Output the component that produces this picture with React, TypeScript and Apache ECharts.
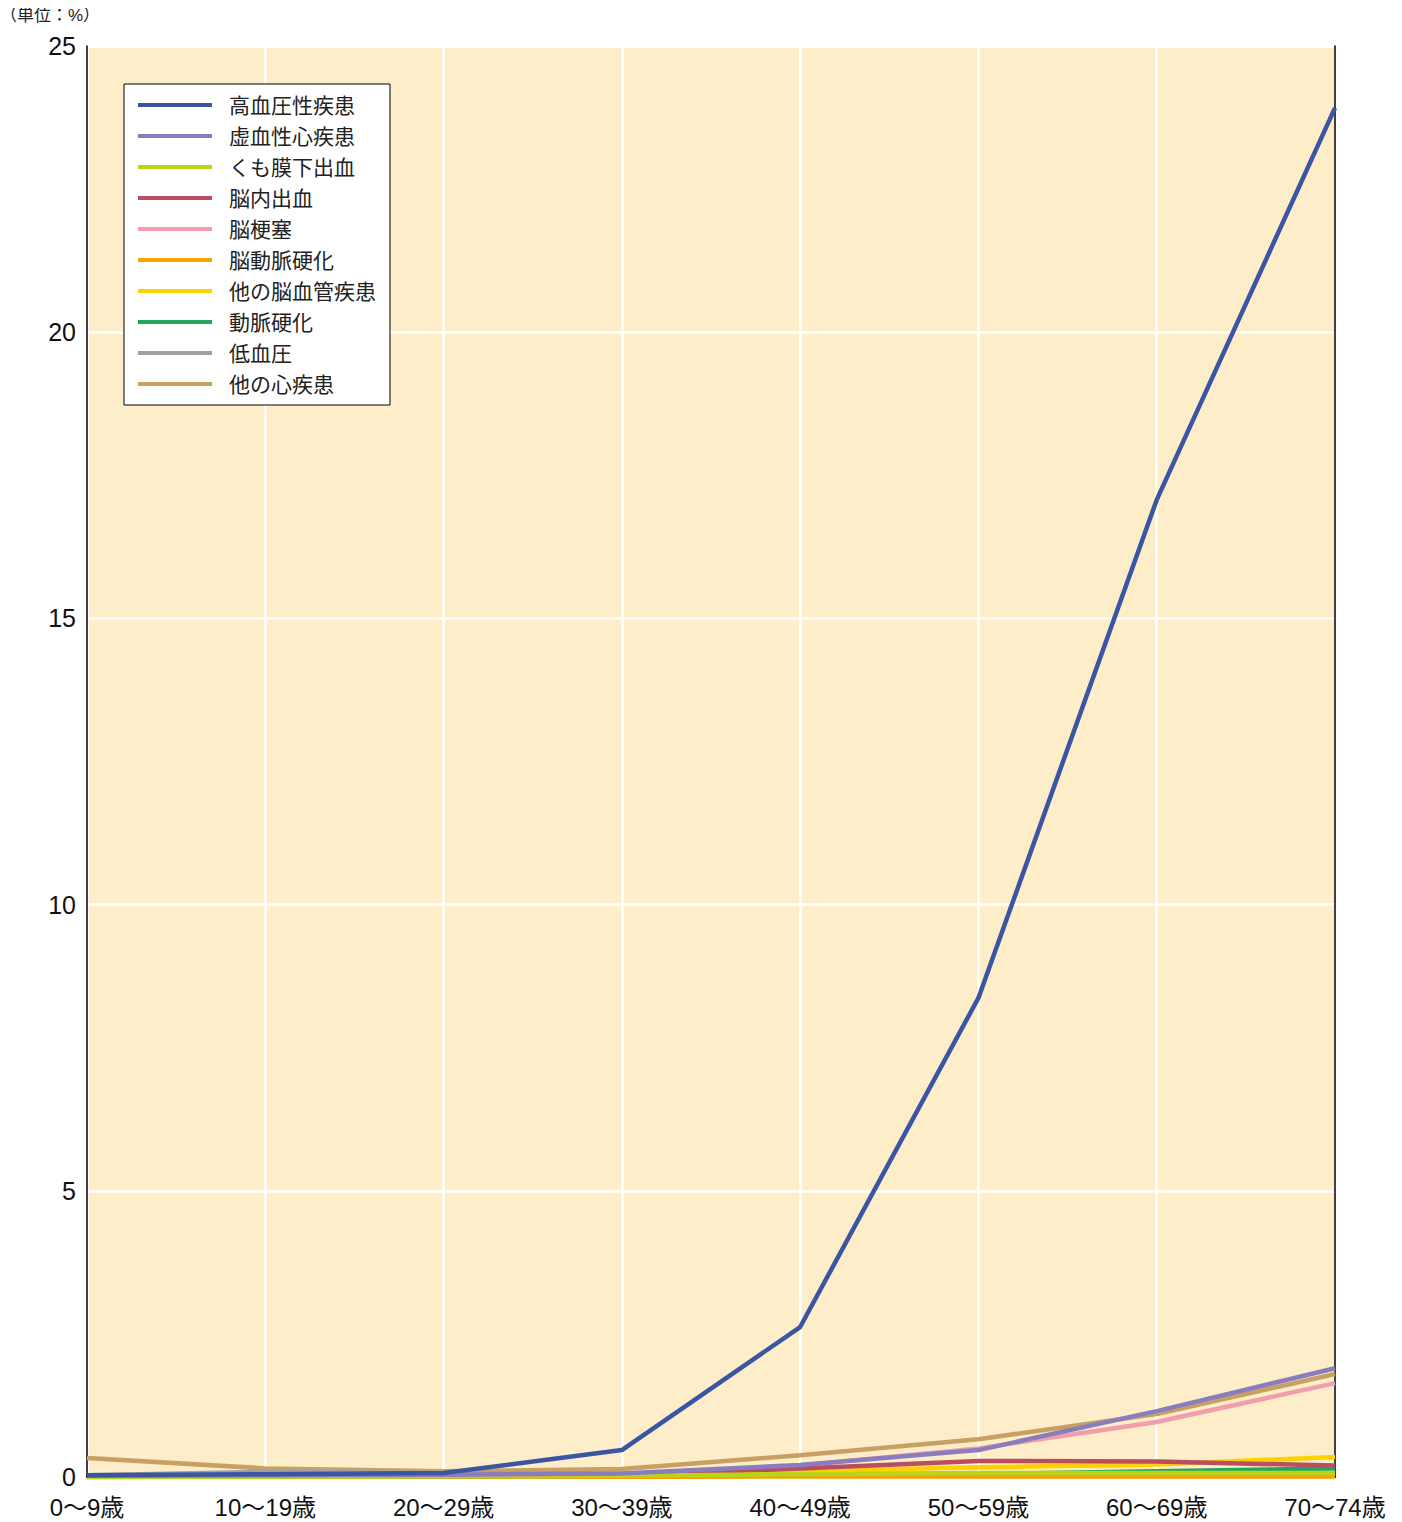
import React, { useEffect, useRef } from "react";
import * as echarts from "echarts";

const categories = ["0～9歳", "10～19歳", "20～29歳", "30～39歳", "40～49歳", "50～59歳", "60～69歳", "70～74歳"];
const seriesNames = ["高血圧性疾患", "虚血性心疾患", "くも膜下出血", "脳内出血", "脳梗塞", "脳動脈硬化", "他の脳血管疾患", "動脈硬化", "低血圧", "他の心疾患"];
const seriesColors = ["#3A55A4", "#8A7DBE", "#BCD318", "#B94E63", "#F29DAB", "#F5A300", "#FFD100", "#1FA75E", "#A0A0A0", "#C9A064"];

const hypertension = [0.03, 0.05, 0.07, 0.47, 2.62, 8.37, 17.07, 23.92];
const ischemicHeart = [0.02, 0.03, 0.04, 0.06, 0.21, 0.47, 1.15, 1.9];
const subarachnoid = [0.0, 0.0, 0.01, 0.02, 0.05, 0.07, 0.07, 0.07];
const intracerebral = [0.0, 0.01, 0.01, 0.03, 0.15, 0.28, 0.27, 0.2];
const cerebralInfarction = [0.0, 0.01, 0.02, 0.05, 0.2, 0.5, 0.96, 1.64];
const cerebralArterio = [0.0, 0.0, 0.0, 0.0, 0.01, 0.01, 0.01, 0.01];
const otherCerebro = [0.01, 0.01, 0.02, 0.04, 0.1, 0.17, 0.22, 0.35];
const arteriosclerosis = [0.0, 0.0, 0.0, 0.01, 0.03, 0.05, 0.1, 0.15];
const hypotension = [0.03, 0.09, 0.07, 0.06, 0.06, 0.05, 0.05, 0.05];
const otherHeart = [0.33, 0.15, 0.1, 0.14, 0.38, 0.66, 1.1, 1.8];

const seriesValues = [hypertension, ischemicHeart, subarachnoid, intracerebral, cerebralInfarction, cerebralArterio, otherCerebro, arteriosclerosis, hypotension, otherHeart];
const yTicks = { min: 0, max: 25, interval: 5 };
const unitLabel = "（単位：%）";

const FONT = "'Liberation Sans', 'Noto Sans CJK JP', sans-serif";

export default function App() {
  const ref = useRef<HTMLDivElement>(null);
  useEffect(() => {
    if (!ref.current) return;
    const chart = echarts.init(ref.current, null, { renderer: "svg" });
    const series = seriesNames.map((name, i) => ({
      name,
      type: "line",
      data: seriesValues[i],
      symbol: "none",
      z: 20 - i,
      lineStyle: { color: seriesColors[i], width: 4.5 },
      itemStyle: { color: seriesColors[i] },
    }));
    const frameAxisLine = { show: true, lineStyle: { color: "#000", width: 1.5 } };
    chart.setOption({
      animation: false,
      textStyle: { fontFamily: FONT },
      graphic: [
        {
          type: "text",
          left: 0,
          top: 7,
          style: { text: unitLabel, fontSize: 17, fill: "#222", fontFamily: FONT },
        },
      ],
      grid: {
        left: 87,
        right: 67,
        top: 46,
        bottom: 45,
        show: true,
        backgroundColor: "#FDEDC9",
        borderWidth: 0,
      },
      legend: {
        data: seriesNames,
        orient: "vertical",
        left: 124,
        top: 84,
        z: 50,
        padding: [10, 14, 10, 14],
        backgroundColor: "#fff",
        borderColor: "#000",
        borderWidth: 1,
        itemWidth: 74,
        itemHeight: 4,
        itemGap: 9,
        icon: "rect",
        textStyle: { fontSize: 21, color: "#222", padding: [0, 0, 0, 12], lineHeight: 22, fontFamily: FONT },
      },
      xAxis: [
        {
          type: "category",
          data: categories,
          boundaryGap: false,
          axisLine: frameAxisLine,
          axisTick: { show: false },
          axisLabel: { fontSize: 24, color: "#111", margin: 18, fontFamily: FONT },
          splitLine: { show: true, lineStyle: { color: "#fff", width: 2.5 } },
          z: 5,
        },
        {
          type: "category",
          data: categories,
          boundaryGap: false,
          position: "top",
          axisLine: frameAxisLine,
          axisTick: { show: false },
          axisLabel: { show: false },
          splitLine: { show: false },
          z: 5,
        },
      ],
      yAxis: [
        {
          type: "value",
          min: yTicks.min,
          max: yTicks.max,
          interval: yTicks.interval,
          axisLine: frameAxisLine,
          axisTick: { show: false },
          axisLabel: { fontSize: 25, color: "#111", margin: 11, fontFamily: FONT },
          splitLine: { show: true, lineStyle: { color: "#fff", width: 2.5 } },
          z: 5,
        },
        {
          type: "value",
          min: yTicks.min,
          max: yTicks.max,
          interval: yTicks.interval,
          position: "right",
          axisLine: frameAxisLine,
          axisTick: { show: false },
          axisLabel: { show: false },
          splitLine: { show: false },
          z: 5,
        },
      ],
      series,
    });
    return () => chart.dispose();
  }, []);
  return <div ref={ref} style={{ width: 1402, height: 1522, margin: "-8px 0 0 -8px" }} />;
}
